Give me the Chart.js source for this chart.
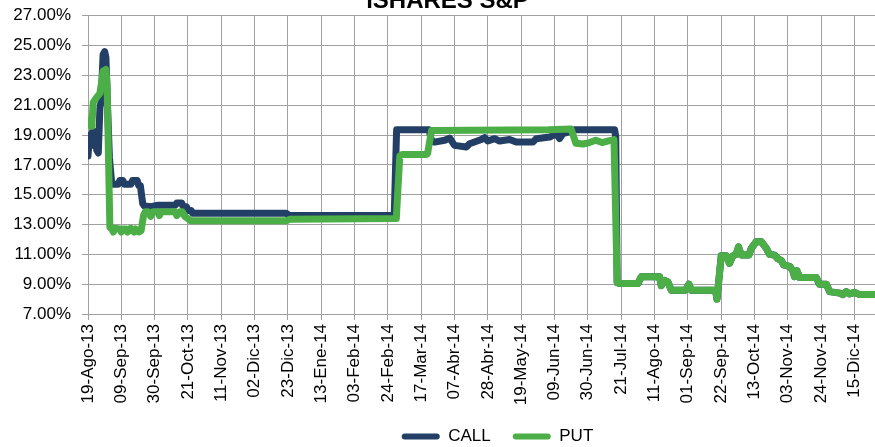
<!DOCTYPE html>
<html>
<head>
<meta charset="utf-8">
<script src="https://cdn.jsdelivr.net/npm/chart.js@4/dist/chart.umd.min.js"></script>
<style>
  html, body { margin: 0; padding: 0; background: #fff; }
  .wrap { position: relative; width: 875px; height: 447px; overflow: hidden; }
  .wrap canvas { position: absolute; left: 0; top: -13px; }
</style>
</head>
<body>
<div class="wrap"><canvas id="chart" width="896" height="468"></canvas></div>
<script>
// x = days since 19-Ago-13, y = volatility in %
const tickLabels = ['19-Ago-13','09-Sep-13','30-Sep-13','21-Oct-13','11-Nov-13','02-Dic-13','23-Dic-13',
  '13-Ene-14','03-Feb-14','24-Feb-14','17-Mar-14','07-Abr-14','28-Abr-14','19-May-14','09-Jun-14',
  '30-Jun-14','21-Jul-14','11-Ago-14','01-Sep-14','22-Sep-14','13-Oct-14','03-Nov-14','24-Nov-14','15-Dic-14'];

const callDays = [0,1,2,3,4,5,5.5,6.5,7.5,8.3,9.5,10.5,11.3,12.3,13.5,15,17,19,20,22,23,27,28,31,32,33,34.5,35.5,
  40,44,55,56,59,60,62,63,65,66,125,127,193,194.5,215,216.5,218.5,224.8,227.9,231,238.4,240.5,247.9,250,252,
  256.3,259.4,265.7,269.9,280.4,282.5,290.9,295.1,297.2,299.3,305.6,306.5,331.9,332.6];
const callValues = [17.6,19.0,18.8,19.3,18.3,19.2,18.0,17.8,20.8,21.3,24.4,24.6,24.2,21.0,17.5,15.7,15.7,15.7,15.95,15.95,15.7,15.7,15.95,15.95,15.6,15.6,14.4,14.25,
  14.2,14.3,14.3,14.45,14.45,14.2,14.2,13.95,13.95,13.75,13.75,13.6,13.6,19.35,19.35,18.6,18.53,18.65,18.8,18.31,18.2,18.42,18.7,18.83,18.6,
  18.76,18.6,18.7,18.53,18.53,18.76,18.87,19.1,18.76,19.1,19.3,19.35,19.35,18.9];

const putDays = [0,1,2,2.5,3.3,4,6,7.5,8.5,9.5,11.2,12,13.8,15,16,17,20,21,22,24,25,26,27,29,30,32,33.5,35,36,
  38,39.5,41,44,45,46,55,56,58,59.5,61,63,64.5,125,127,194.3,196.5,198,213,214,216.5,290,304.5,307.5,312,316,
  320,324,327.5,331.5];
const putValues = [20.0,19.7,19.6,19.8,21.2,21.3,21.6,21.8,22.5,23.3,23.4,22.5,12.8,12.7,12.5,12.75,12.7,12.5,12.7,12.7,12.5,12.7,12.75,12.5,12.7,12.5,12.6,13.6,13.85,
  13.85,13.55,13.85,13.85,13.6,13.85,13.85,13.6,13.85,13.85,13.55,13.4,13.25,13.25,13.35,13.4,17.6,17.7,17.7,17.75,19.3,19.35,19.4,18.45,18.4,18.5,
  18.65,18.5,18.6,18.7];

// after the July drop both series coincide (CALL sits under PUT)
const tailDays = [333.5,335,346.6,348.7,360.2,361.3,363.4,365.5,367.6,376.6,378.7,380.2,395.5,396.4,399.1,402.3,404.3,
  406.4,408.5,410,411.7,416.5,418,421.2,424.3,427.5,429.5,432.7,434.8,436.9,438.3,442.2,444.2,445.3,446.8,448.4,
  459,461,465.3,467.4,473.7,475.8,477.9,480,483.1,486.3,496];
const tailValues = [9.1,9.05,9.05,9.5,9.5,8.9,9.25,9.15,8.6,8.6,9.0,8.6,8.6,8.0,10.9,10.9,10.4,
  10.9,11.0,11.5,10.95,10.95,11.4,11.85,11.85,11.4,11.0,10.95,10.7,10.6,10.3,10.2,9.9,9.5,9.9,9.45,
  9.45,9.0,9.0,8.5,8.4,8.3,8.5,8.35,8.45,8.3,8.3];

function toPoints(days, values) {
  return days.map((d, i) => ({ x: d, y: values[i] }));
}
const tail = toPoints(tailDays, tailValues);

const fontName = "'Liberation Sans', Arial, sans-serif";
const gridColor = '#a0a0a0';

// nudge title and legend sideways to where the original sits
const shiftBoxes = {
  id: 'shiftBoxes',
  afterLayout(chart) {
    chart.titleBlock.left += 10;
    chart.titleBlock.right += 10;
    chart.legend.left += 16;
    chart.legend.right += 16;
  }
};

new Chart(document.getElementById('chart'), {
  type: 'line',
  data: {
    datasets: [
      {
        label: 'CALL',
        data: toPoints(callDays, callValues).concat(tail),
        borderColor: '#233f66',
        backgroundColor: '#233f66',
        borderWidth: 7,
        order: 1
      },
      {
        label: 'PUT',
        data: toPoints(putDays, putValues).concat(tail),
        borderColor: '#4bae46',
        backgroundColor: '#4bae46',
        borderWidth: 7,
        order: 0
      }
    ]
  },
  plugins: [shiftBoxes],
  options: {
    responsive: false,
    animation: false,
    events: [],
    elements: {
      point: { radius: 0 },
      line: { tension: 0, borderJoinStyle: 'round', borderCapStyle: 'round' }
    },
    layout: { padding: { left: 0, right: 21, top: 0, bottom: 0 } },
    plugins: {
      title: {
        display: true,
        text: 'iSHARES S&P',
        color: '#000',
        font: { family: fontName, size: 24, weight: 'bold' },
        padding: { top: 0, bottom: 0 }
      },
      legend: {
        position: 'bottom',
        fullSize: false,
        labels: {
          color: '#000',
          font: { family: fontName, size: 17 },
          boxWidth: 38,
          boxHeight: 6,
          useBorderRadius: true,
          borderRadius: 3,
          padding: 22,
          sort: (a, b) => a.datasetIndex - b.datasetIndex,
          generateLabels: chart => Chart.defaults.plugins.legend.labels.generateLabels(chart)
            .map(l => Object.assign(l, { lineWidth: 0 }))
        }
      },
      tooltip: { enabled: false }
    },
    scales: {
      x: {
        type: 'linear',
        min: 0,
        max: 496,
        grid: { color: gridColor, tickLength: 6 },
        border: { color: gridColor },
        ticks: {
          stepSize: 21,
          autoSkip: false,
          includeBounds: false,
          minRotation: 90,
          maxRotation: 90,
          padding: 4,
          color: '#000',
          font: { family: fontName, size: 17 },
          callback: v => tickLabels[Math.round(v / 21)] || ''
        },
        afterFit: axis => { axis.height = 92; axis.paddingLeft = 0; axis.paddingRight = 0; }
      },
      y: {
        min: 7,
        max: 27,
        grid: { color: gridColor, tickLength: 6 },
        border: { color: gridColor },
        ticks: {
          stepSize: 2,
          padding: 11,
          color: '#000',
          font: { family: fontName, size: 17 },
          callback: v => v.toFixed(2) + '%'
        },
        afterFit: axis => { axis.width = 88; }
      }
    }
  }
});
</script>
</body>
</html>
